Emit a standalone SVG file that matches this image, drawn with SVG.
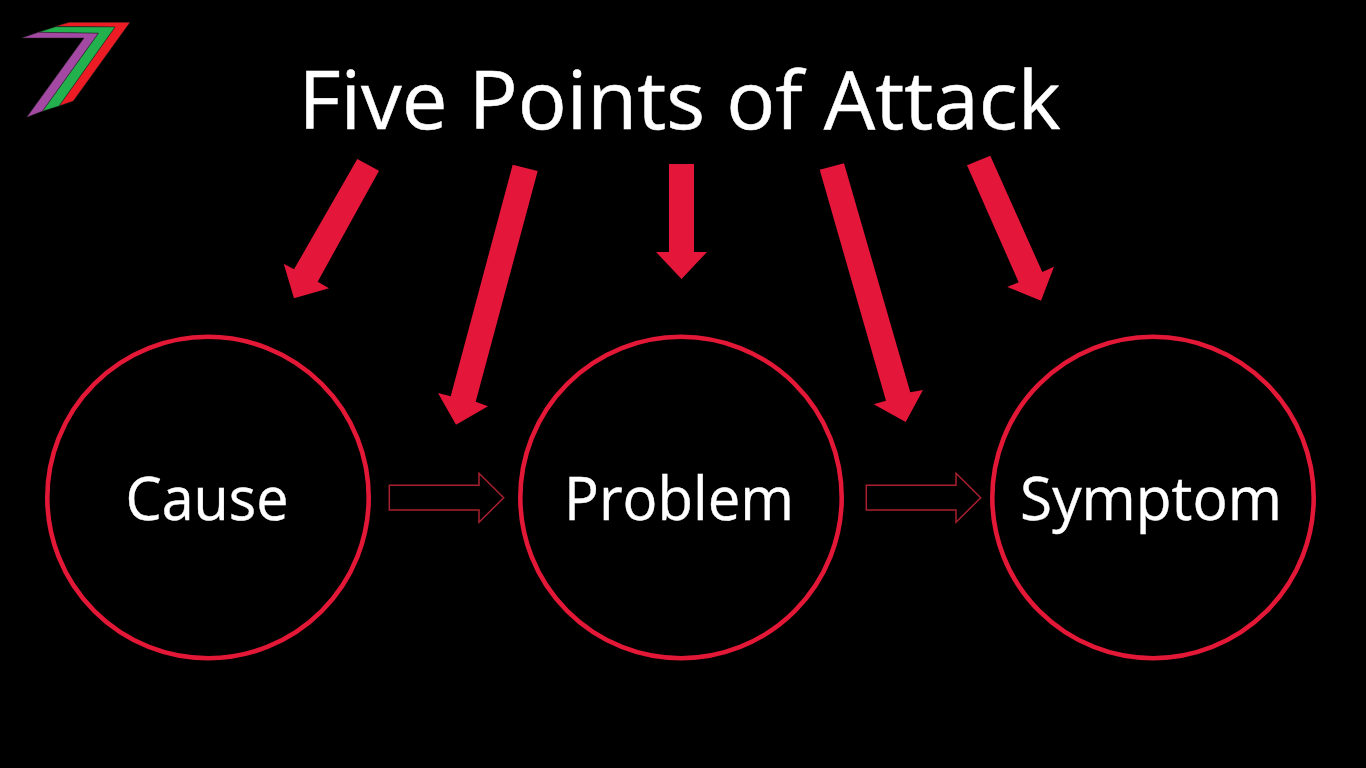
<svg xmlns="http://www.w3.org/2000/svg" width="1366" height="768" viewBox="0 0 1366 768">
<style>
text{font-family:"Open Sans","Noto Sans","Liberation Sans",sans-serif;fill:#fff;stroke:#fff;text-anchor:middle}
.t{font-size:80px;stroke-width:.5}
.l{font-size:60px;stroke-width:.4}
.c{fill:none;stroke:#e31837;stroke-width:4.6}
.a{fill:#e4173b}
.h{fill:none;stroke:#a8202f;stroke-width:1.5}
</style>
<rect width="1366" height="768" fill="#000"/>
<g id="logo" stroke="#222" stroke-width=".5">
<polygon fill="#ed1c24" points="55.7,26.3 69.3,22.3 130,22.3 73.3,101 59,106 115,27"/>
<polygon fill="#22b14c" points="38.3,32.3 55.7,26.7 115,27 59,106 42.3,111.3 98.3,33.3"/>
<polygon fill="#a349a4" points="21.7,38 38.3,32.3 98.3,33.3 42.3,111.3 26.7,117.3 84,38"/>
</g>
<g id="title"><text class="t" x="679.5" y="129" textLength="762" lengthAdjust="spacingAndGlyphs">Five Points of Attack</text></g>
<g id="cause"><circle class="c" cx="208" cy="497.500" r="160.700"/><text class="l" x="207" y="519.500" textLength="163" lengthAdjust="spacingAndGlyphs">Cause</text></g>
<g id="problem"><circle class="c" cx="681" cy="497.500" r="160.700"/><text class="l" x="679" y="519.500" textLength="230" lengthAdjust="spacingAndGlyphs">Problem</text></g>
<g id="symptom"><circle class="c" cx="1153" cy="497.500" r="160.700"/><text class="l" x="1151" y="519.500" textLength="262" lengthAdjust="spacingAndGlyphs">Symptom</text></g>
<g id="connectors">
<polygon class="a" points="357.300,159 379,170.700 317.700,281.700 329,288.300 294,298.300 283.700,263.700 294,269.300"/>
<polygon class="a" points="512.700,164.700 537.700,171 475.700,401.700 488,406.300 456,424.700 438,393 450.700,396.300"/>
<polygon class="a" points="669,164 694,164 694,252 707,252 681.500,279 656,252 669,252"/>
<polygon class="a" points="819.700,169.700 844,163.300 910.300,392.300 923,390 905.700,422 873.700,404.300 886,400.700"/>
<polygon class="a" points="967,165.300 990.300,155.700 1042.300,272 1054,266.700 1041,300.700 1007.300,287 1018.700,282.300"/>
<polygon class="h" points="389.300,485.300 479,485.300 479,473.300 503.700,497.700 479,522.300 479,510 389.300,510"/>
<polygon class="h" points="866.300,485.300 956,485.300 956,473.300 980.700,497.700 956,522.300 956,510 866.300,510"/>
</g>
</svg>
